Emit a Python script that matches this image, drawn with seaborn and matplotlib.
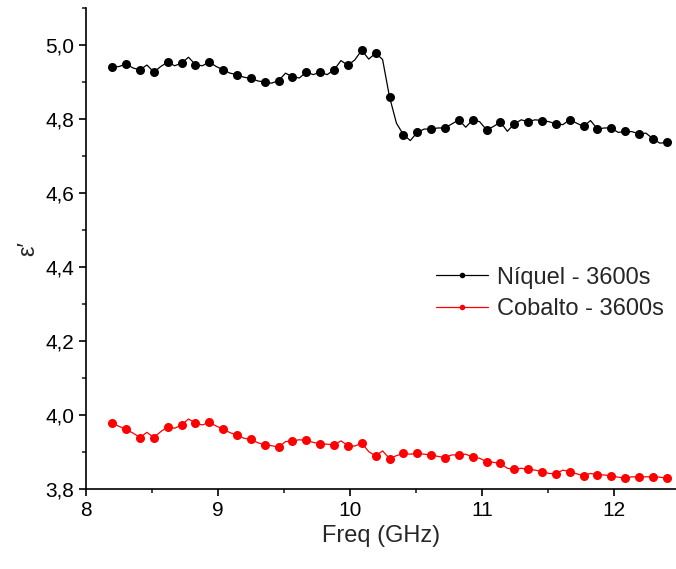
import numpy as np
import pandas as pd
import matplotlib
matplotlib.use("Agg")
import matplotlib.pyplot as plt
from matplotlib.lines import Line2D
from matplotlib.ticker import MultipleLocator, FuncFormatter
import seaborn as sns

# values: marker points (every 0.105 GHz) and the
# line values halfway between them
freq = np.round(np.linspace(8.2, 12.4, 81), 4)

nickel_pts = [4.939, 4.948, 4.932, 4.926, 4.953, 4.950, 4.946, 4.953, 4.932, 4.919,
              4.909, 4.899, 4.903, 4.913, 4.926, 4.926, 4.932, 4.944, 4.985, 4.977,
              4.859, 4.757, 4.763, 4.772, 4.775, 4.797, 4.797, 4.770, 4.791, 4.786,
              4.792, 4.795, 4.786, 4.797, 4.779, 4.772, 4.775, 4.766, 4.759, 4.746, 4.736]
nickel_mid = [4.941, 4.937, 4.945, 4.941, 4.943, 4.966, 4.943, 4.941, 4.923, 4.912,
              4.902, 4.896, 4.923, 4.910, 4.919, 4.919, 4.957, 4.959, 4.961, 4.960,
              4.788, 4.741, 4.772, 4.775, 4.786, 4.777, 4.792, 4.779, 4.766, 4.797,
              4.797, 4.792, 4.784, 4.788, 4.795, 4.775, 4.763, 4.765, 4.761, 4.734]

cobalt_pts = [3.978, 3.961, 3.939, 3.939, 3.968, 3.973, 3.978, 3.980, 3.962, 3.946,
              3.934, 3.919, 3.913, 3.930, 3.931, 3.922, 3.919, 3.917, 3.924, 3.889,
              3.882, 3.896, 3.896, 3.892, 3.885, 3.892, 3.886, 3.874, 3.869, 3.853,
              3.853, 3.847, 3.841, 3.847, 3.836, 3.838, 3.835, 3.829, 3.832, 3.833, 3.829]
cobalt_mid = [3.969, 3.951, 3.953, 3.955, 3.964, 3.989, 3.973, 3.970, 3.952, 3.937,
              3.925, 3.917, 3.928, 3.933, 3.926, 3.921, 3.930, 3.916, 3.901, 3.903,
              3.890, 3.894, 3.894, 3.888, 3.892, 3.894, 3.883, 3.872, 3.856, 3.856,
              3.851, 3.842, 3.851, 3.841, 3.842, 3.838, 3.832, 3.833, 3.833, 3.832]

labels = ["Níquel - 3600s", "Cobalto - 3600s"]
colors = ["black", "#ff0000"]


def interleave(pts, mid):
    out = []
    for i, p in enumerate(pts):
        out.append(p)
        if i < len(mid):
            out.append(mid[i])
    return out


df = pd.concat([
    pd.DataFrame({"freq": freq, "eps": interleave(nickel_pts, nickel_mid), "sample": labels[0]}),
    pd.DataFrame({"freq": freq, "eps": interleave(cobalt_pts, cobalt_mid), "sample": labels[1]}),
])

sns.set_style("ticks")
plt.rcParams["font.family"] = ["Liberation Sans", "DejaVu Sans"]

fig = plt.figure(figsize=(6.76, 5.69), dpi=100)
ax = fig.add_axes([0.127, 0.1406, 0.873, 0.846])

for lab, col in zip(labels, colors):
    sub = df[df["sample"] == lab]
    sns.lineplot(data=sub, x="freq", y="eps", ax=ax, color=col, lw=0.9,
                 marker="o", markersize=6.5, markeredgewidth=0, markevery=2,
                 legend=False)

ax.set_xlim(8, 12.47)
ax.set_ylim(3.8, 5.1)
ax.xaxis.set_major_locator(MultipleLocator(1))
ax.xaxis.set_minor_locator(MultipleLocator(0.5))
ax.yaxis.set_major_locator(MultipleLocator(0.2))
ax.yaxis.set_minor_locator(MultipleLocator(0.1))
ax.yaxis.set_major_formatter(FuncFormatter(lambda v, p: f"{v:.1f}".replace(".", ",")))
ax.xaxis.set_major_formatter(FuncFormatter(lambda v, p: f"{v:.0f}"))

sns.despine(ax=ax)
for s in ["left", "bottom"]:
    ax.spines[s].set_linewidth(1.2)
    ax.spines[s].set_color("black")
ax.tick_params(which="major", direction="out", length=5, width=1.2,
               labelsize=15, colors="black")
ax.tick_params(which="minor", direction="out", length=3, width=1.2)

ax.set_xlabel("Freq (GHz)", fontsize=17)
ax.set_ylabel("ε′", fontsize=17)

handles = [Line2D([], [], color=c, lw=0.9, marker="o", markersize=4, markeredgewidth=0)
           for c in colors]
ax.legend(handles, labels, loc="upper left", bbox_to_anchor=(0.593, 0.462),
          frameon=False, fontsize=17, handlelength=2.2, handletextpad=0.4,
          labelspacing=0.4, borderaxespad=0, borderpad=0)

fig.savefig("out.png", dpi=100)
